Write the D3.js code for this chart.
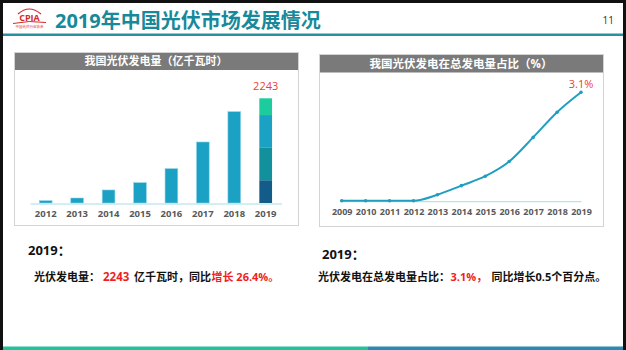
<!DOCTYPE html>
<html>
<head>
<meta charset="utf-8">
<script src="https://cdn.jsdelivr.net/npm/d3@7"></script>
<style>
  body { margin: 0; background: #fff; }
  svg { display: block; font-family: "Open Sans", "Noto Sans CJK SC", sans-serif; }
</style>
</head>
<body>
<div id="chart"></div>
<script>
// data
var genYears = ["2012", "2013", "2014", "2015", "2016", "2017", "2018", "2019"];
var genValues = [50, 107, 279, 436, 736, 1307, 1956, 2243];   // 亿千瓦时
var seg2019 = [488, 694, 702, 359];                          // stacked pieces of the 2019 bar, bottom up
var segColors = ["#135c8a", "#12909c", "#1ba1c3", "#1ccc9c"];

var shareYears = ["2009", "2010", "2011", "2012", "2013", "2014", "2015", "2016", "2017", "2018", "2019"];
var shareValues = [0, 0, 0, 0, 0.17, 0.43, 0.7, 1.12, 1.81, 2.53, 3.1]; // %

var W = 626, H = 350;
var svg = d3.select("#chart").append("svg")
  .attr("width", W)
  .attr("height", H);

svg.append("rect").attr("width", W).attr("height", H).attr("fill", "#fff");

// ---- slide frame / header ----
svg.append("rect").attr("x", 0).attr("y", 0).attr("width", W).attr("height", 3).attr("fill", "#111");
svg.append("rect").attr("x", 0).attr("y", 0).attr("width", 3).attr("height", H).attr("fill", "#111");
svg.append("rect").attr("x", 623).attr("y", 0).attr("width", 3).attr("height", H).attr("fill", "#111");

svg.append("rect").attr("x", 3).attr("y", 33.5).attr("width", 620).attr("height", 2.5).attr("fill", "#2a8f9f");

// logo
var logo = svg.append("g");
logo.append("path")
  .attr("d", "M18,14 Q29,4 41,14")
  .attr("fill", "none").attr("stroke", "#d42a2a").attr("stroke-width", 1.2);
logo.append("text")
  .attr("x", 29.5).attr("y", 20.5)
  .attr("text-anchor", "middle")
  .attr("font-size", 9).attr("font-weight", "bold")
  .attr("fill", "#d42a2a")
  .text("CPIA");
logo.append("path")
  .attr("d", "M13,23.5 Q29,20 46,22.5")
  .attr("fill", "none").attr("stroke", "#d42a2a").attr("stroke-width", 1);
logo.append("text")
  .attr("x", 29.5).attr("y", 27.5)
  .attr("text-anchor", "middle")
  .attr("font-size", 3.5).attr("fill", "#d42a2a")
  .text("中国光伏行业协会");

svg.append("text")
  .attr("x", 55).attr("y", 27.5)
  .attr("font-size", 20).attr("font-weight", "bold")
  .attr("fill", "#18899a")
  .text("2019年中国光伏市场发展情况");

svg.append("text")
  .attr("x", 614).attr("y", 23.5)
  .attr("text-anchor", "end")
  .attr("font-size", 10).attr("fill", "#333")
  .text("11");

// ---- panel boxes ----
function panel(x0, y0, x1, y1, hh, title, fs) {
  svg.append("rect")
    .attr("x", x0 + 0.5).attr("y", y0 + 0.5)
    .attr("width", x1 - x0).attr("height", y1 - y0)
    .attr("fill", "#fff").attr("stroke", "#d3d3d3");
  svg.append("rect")
    .attr("x", x0 + 1).attr("y", y0 + 1)
    .attr("width", x1 - x0 - 1).attr("height", hh)
    .attr("fill", "#7a7a7a");
  svg.append("text")
    .attr("x", (x0 + x1) / 2).attr("y", y0 + 1 + hh / 2)
    .attr("dy", "0.36em")
    .attr("text-anchor", "middle")
    .attr("font-size", fs).attr("font-weight", "bold")
    .attr("fill", "#fff")
    .text(title);
}
panel(14, 52, 298, 225, 17, "我国光伏发电量（亿千瓦时）", 11);
panel(319, 54, 603, 226, 17.5, "我国光伏发电在总发电量占比（%）", 11.5);

// ---- left: bar chart ----
var x = d3.scaleBand()
  .domain(genYears)
  .range([30, 281.4])
  .paddingInner(0.595)
  .paddingOuter(0.2975);

var y = d3.scaleLinear()
  .domain([0, d3.max(genValues)])
  .range([203, 98.3]);

var gx = svg.append("g")
  .attr("transform", "translate(0,203.5)")
  .call(d3.axisBottom(x).tickSize(0).tickPadding(7));
gx.select(".domain").attr("stroke", "#a8dcea").attr("stroke-width", 1);
gx.selectAll("text")
  .attr("font-size", 9.5).attr("font-weight", "bold")
  .attr("fill", "#595959")
  .attr("font-family", "\"Open Sans\", sans-serif");

var bars = genYears.map(function(d, i) { return { year: d, value: genValues[i] }; });
svg.selectAll(".bar")
  .data(bars.filter(function(d) { return d.year !== "2019"; }))
  .enter().append("rect")
  .attr("class", "bar")
  .attr("x", function(d) { return x(d.year); })
  .attr("y", function(d) { return y(d.value); })
  .attr("width", x.bandwidth())
  .attr("height", function(d) { return y(0) - y(d.value); })
  .attr("fill", "#1ba1c3")
  .attr("stroke", "#8fd3e6")
  .attr("stroke-width", 0.6);

// 2019 stacked bar
var acc = 0;
var segs = seg2019.map(function(v, i) {
  var s = { y0: acc, y1: acc + v, color: segColors[i] };
  acc += v;
  return s;
});
svg.selectAll(".seg")
  .data(segs)
  .enter().append("rect")
  .attr("class", "seg")
  .attr("x", x("2019"))
  .attr("y", function(d) { return y(d.y1); })
  .attr("width", x.bandwidth())
  .attr("height", function(d) { return y(d.y0) - y(d.y1); })
  .attr("fill", function(d) { return d.color; });

svg.append("text")
  .attr("x", x("2019") + x.bandwidth() / 2)
  .attr("y", y(d3.max(genValues)) - 8.5)
  .attr("text-anchor", "middle")
  .attr("font-size", 11)
  .attr("fill", "#e8413a")
  .text(d3.max(genValues));

// ---- right: line chart ----
var x2 = d3.scalePoint()
  .domain(shareYears)
  .range([341.7, 581]);

var y2 = d3.scaleLinear()
  .domain([0, d3.max(shareValues)])
  .range([200.7, 92.3]);

var gx2 = svg.append("g")
  .attr("transform", "translate(0,201.2)")
  .call(d3.axisBottom(x2).tickSize(0).tickPadding(7).tickSizeOuter(0));
gx2.select(".domain").attr("stroke", "#a3dede").attr("stroke-width", 1);
gx2.selectAll("text")
  .attr("font-size", 9).attr("font-weight", "bold")
  .attr("fill", "#595959")
  .attr("font-family", "\"Open Sans\", sans-serif");

var pts = shareYears.map(function(d, i) { return { year: d, value: shareValues[i] }; });

svg.append("path")
  .datum(pts)
  .attr("fill", "none")
  .attr("stroke", "#1f9fc0")
  .attr("stroke-width", 2)
  .attr("d", d3.line()
    .curve(d3.curveMonotoneX)
    .x(function(d) { return x2(d.year); })
    .y(function(d) { return y2(d.value); }));

svg.selectAll(".pt")
  .data(pts)
  .enter().append("circle")
  .attr("class", "pt")
  .attr("cx", function(d) { return x2(d.year); })
  .attr("cy", function(d) { return y2(d.value); })
  .attr("r", 1.8)
  .attr("fill", "#1f9fc0");

svg.append("text")
  .attr("x", x2("2019"))
  .attr("y", y2(d3.max(shareValues)) - 4)
  .attr("text-anchor", "middle")
  .attr("font-size", 11)
  .attr("fill", "#e8413a")
  .text(d3.max(shareValues) + "%");

// ---- notes below ----
var red = "#f01e1e";
svg.append("text")
  .attr("x", 28).attr("y", 255)
  .attr("font-size", 13).attr("font-weight", "bold").attr("fill", "#111")
  .text("2019：");

var t1 = svg.append("text")
  .attr("y", 280.5)
  .attr("font-size", 11).attr("font-weight", "bold").attr("fill", "#111");
t1.append("tspan").attr("x", 34).text("光伏发电量：");
t1.append("tspan").attr("x", 103).attr("fill", red).attr("font-size", 11.5).text("2243");
t1.append("tspan").attr("x", 134).text("亿千瓦时，同比");
t1.append("tspan").attr("x", 211.5).attr("fill", red).text("增长 26.4%。");

svg.append("text")
  .attr("x", 322).attr("y", 258.5)
  .attr("font-size", 13).attr("font-weight", "bold").attr("fill", "#111")
  .text("2019：");

var t2 = svg.append("text")
  .attr("y", 280.5)
  .attr("font-size", 11).attr("font-weight", "bold").attr("fill", "#111");
t2.append("tspan").attr("x", 318).text("光伏发电在总发电量占比：");
t2.append("tspan").attr("x", 450.5).attr("fill", red).text("3.1%，");
t2.append("tspan").attr("x", 491.5).text("同比增长0.5个百分点。");

// bottom stripe
svg.append("rect").attr("x", 3).attr("y", 346.5).attr("width", 365).attr("height", 3.5).attr("fill", "#22c29a");
svg.append("rect").attr("x", 368).attr("y", 346.5).attr("width", 255).attr("height", 3.5).attr("fill", "#2a8ab2");
</script>
</body>
</html>
